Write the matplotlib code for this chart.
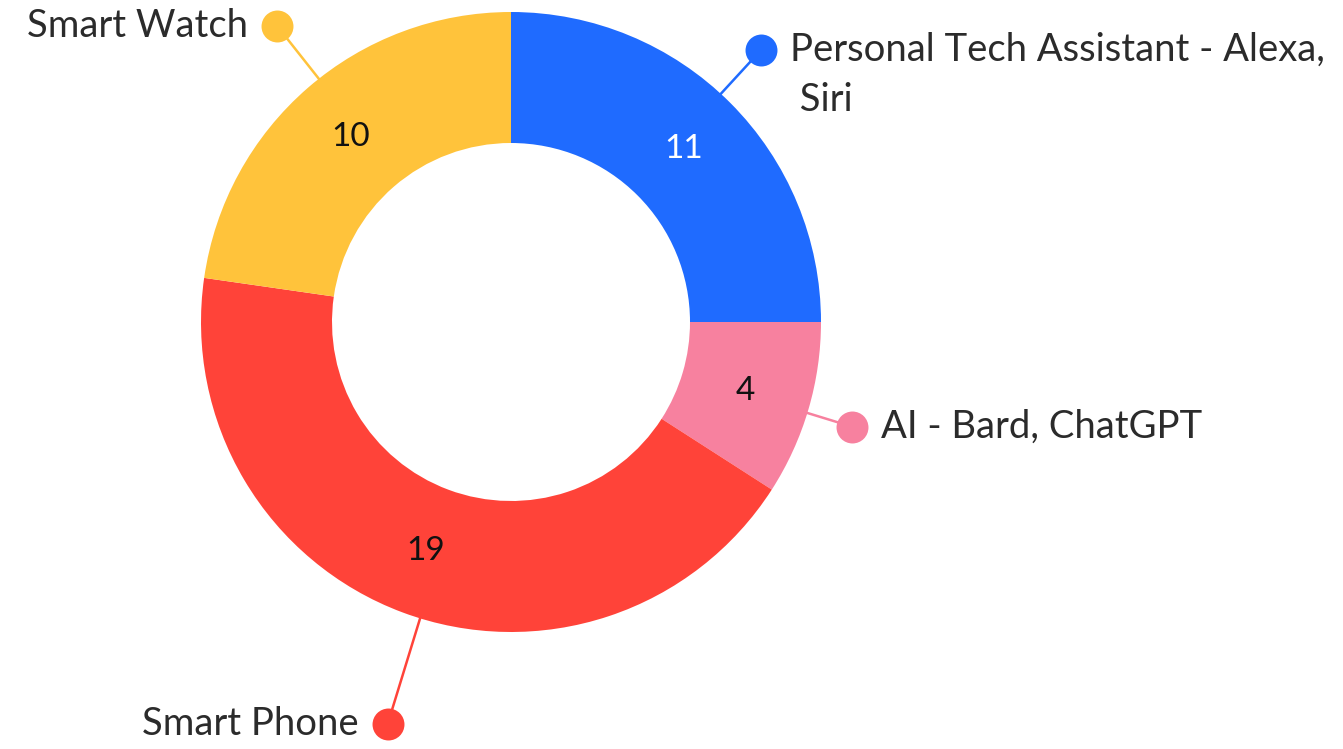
import numpy as np
import matplotlib.pyplot as plt

# device usage counts, clockwise from 12 o'clock
categories = ["Personal Tech Assistant - Alexa,\n Siri", "AI - Bard, ChatGPT",
              "Smart Phone", "Smart Watch"]
values = [11, 4, 19, 10]
colors = ["#1F6BFF", "#F7819F", "#FF4339", "#FFC33B"]
value_colors = ["white", "#111111", "#111111", "#111111"]

# leader layout: angle nudge (deg) and distance of the dot from the centre
nudge = [2.4, -0.7, 3.4, -2.6]
dot_r = [370, 357, 420, 377]

W, H = 1343, 749
cx, cy = 511, H - 322
R, ring = 310, 131
text_col = "#2B2B2B"
font = ["Lato", "DejaVu Sans"]
fs = 27.5

fig = plt.figure(figsize=(W / 100, H / 100), dpi=100)
ax = fig.add_axes([0, 0, 1, 1])

wedges, _ = ax.pie(values, colors=colors, startangle=90, counterclock=False,
                   radius=R, center=(cx, cy),
                   wedgeprops=dict(width=ring, linewidth=0))

for w, v, vc, name, col, dn, dr in zip(wedges, values, value_colors, categories,
                                        colors, nudge, dot_r):
    mid = np.deg2rad((w.theta1 + w.theta2) / 2)
    rm = R - ring / 2
    ax.text(cx + rm * np.cos(mid), cy + rm * np.sin(mid), str(v),
            ha="center", va="center", fontsize=24, color=vc, family=font)

    a = mid + np.deg2rad(dn)
    x0, y0 = cx + R * np.cos(a), cy + R * np.sin(a)
    x1, y1 = cx + dr * np.cos(a), cy + dr * np.sin(a)
    ax.plot([x0, x1], [y0, y1], color=col, lw=1.8, zorder=3)
    ax.plot(x1, y1, "o", ms=23, color=col, mec="none", zorder=4)

    right = np.cos(a) > 0
    tx = x1 + 29 if right else x1 - 29
    # wrapped names: one line per text, 50 px apart
    for i, line in enumerate(name.split("\n")):
        ax.text(tx, y1 - 50 * i, line, ha="left" if right else "right",
                va="center", fontsize=fs, color=text_col, family=font)

ax.set_xlim(0, W)
ax.set_ylim(0, H)
ax.set_aspect("equal")
ax.axis("off")

fig.savefig("out.png", dpi=100, facecolor="white")
